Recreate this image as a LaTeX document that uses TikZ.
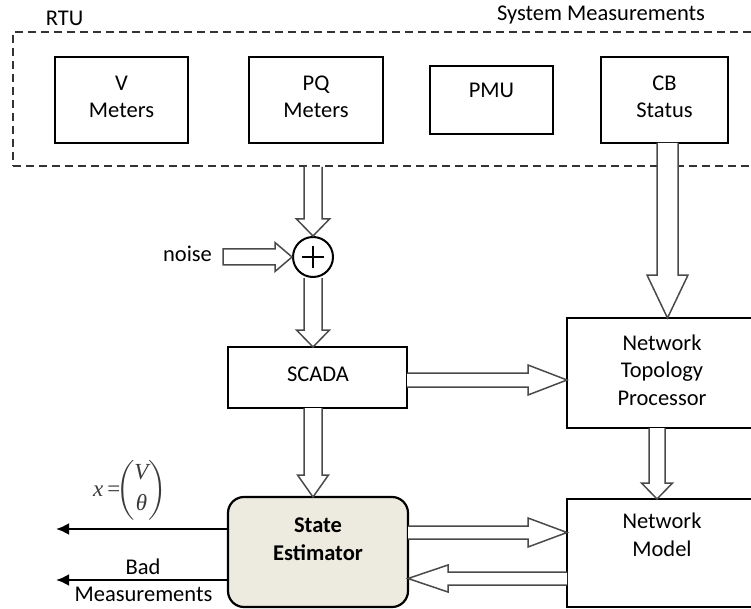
\documentclass[tikz,border=0pt]{standalone}
\usepackage{fontspec}
\usepackage{amsmath}
\setmainfont{Carlito}
\newfontfamily\tms{Liberation Serif}
\usetikzlibrary{calc,arrows.meta}
\definecolor{sefill}{HTML}{EDEBE0}
\definecolor{arrgray}{HTML}{4A4A4A}
\definecolor{dashgray}{HTML}{333333}
\definecolor{matgray}{HTML}{3A3A3A}
\tikzset{
  box/.style={draw=black, line width=2.2pt, align=center, inner sep=0pt, outer sep=0pt,
    font=\fontsize{22.5}{27.5}\selectfont, text=black},
  txt/.style={inner sep=0pt, align=center, font=\fontsize{22.5}{27.5}\selectfont, text=black},
  dashbox/.style={draw=dashgray, line width=2pt, dash pattern=on 8pt off 5pt, inner sep=0pt},
  blockarr/.style={draw=arrgray, line width=1.5pt, fill=white, line join=miter},
  outarr/.style={draw=black, line width=2.4pt, -{Latex[length=13pt,width=12pt]}}
}
% vertical (downward) block arrow: from, tip, shaft half, head half, head length
\newcommand{\barrdown}[5]{%
  \draw[blockarr] let \p1=(#1), \p2=(#2) in
    (\x1-#3,\y1) -- (\x1-#3,\y2+#5) -- (\x1-#4,\y2+#5) -- (\x1,\y2)
    -- (\x1+#4,\y2+#5) -- (\x1+#3,\y2+#5) -- (\x1+#3,\y1);}
% rightward block arrow
\newcommand{\barrright}[5]{%
  \draw[blockarr] let \p1=(#1), \p2=(#2) in
    (\x1,\y1+#3) -- (\x2-#5,\y1+#3) -- (\x2-#5,\y1+#4) -- (\x2,\y1)
    -- (\x2-#5,\y1-#4) -- (\x2-#5,\y1-#3) -- (\x1,\y1-#3);}
% rightward block arrow with closed tail
\newcommand{\barrrightc}[5]{%
  \draw[blockarr] let \p1=(#1), \p2=(#2) in
    (\x1,\y1+#3) -- (\x2-#5,\y1+#3) -- (\x2-#5,\y1+#4) -- (\x2,\y1)
    -- (\x2-#5,\y1-#4) -- (\x2-#5,\y1-#3) -- (\x1,\y1-#3) -- cycle;}
% leftward block arrow
\newcommand{\barrleft}[5]{%
  \draw[blockarr] let \p1=(#1), \p2=(#2) in
    (\x1,\y1+#3) -- (\x2+#5,\y1+#3) -- (\x2+#5,\y1+#4) -- (\x2,\y1)
    -- (\x2+#5,\y1-#4) -- (\x2+#5,\y1-#3) -- (\x1,\y1-#3);}
\begin{document}
\begin{tikzpicture}[x=1pt,y=-1pt]
\useasboundingbox (0,0) rectangle (751,609);
\clip (0,0) rectangle (751,609);
\fill[white] (0,0) rectangle (751,609);

% container
\node[dashbox, minimum width=757pt, minimum height=134pt] (rtu) at (391.5,99) {};
\node[txt] (rtulbl) at (64.5,18) {RTU};
\node[txt] (syslbl) at (601,15) {System Measurements};

% meters
\node[box, minimum width=133pt, minimum height=86pt] (vm) at (121.5,100) {};
\node[txt] (vmtxt) at (121.5,97) {V\\Meters};
\node[box, minimum width=134pt, minimum height=86pt] (pq) at (316,100) {};
\node[txt] (pqtxt) at (316,97) {PQ\\Meters};
\node[box, minimum width=123pt, minimum height=68pt] (pmu) at (491.5,100) {};
\node[txt] (pmutxt) at (491.5,90) {PMU};
\node[box, minimum width=127pt, minimum height=86pt] (cb) at (664.5,100) {};
\node[txt] (cbtxt) at (664.5,97) {CB\\Status};

% summing junction
\node[draw=black, line width=2pt, circle, minimum size=40pt, inner sep=0pt] (sum) at (313,257) {};
\draw[line width=2pt] ($(sum.center)+(-11,0)$) -- ($(sum.center)+(11,0)$)
                      ($(sum.center)+(0,-11)$) -- ($(sum.center)+(0,11)$);
\node[txt] (noise) at (187.5,254) {noise};
\coordinate (nz) at (223,257);

% main blocks
\node[box, minimum width=179pt, minimum height=61pt] (scada) at (317.5,377.5) {};
\node[txt] (scadatxt) at (318,374) {SCADA};
\node[box, minimum width=190pt, minimum height=110pt] (ntp) at (662,373) {};
\node[txt] (ntptxt) at (662,370) {Network\\Topology\\Processor};
\node[box, minimum width=190pt, minimum height=108pt] (nm) at (662,553) {};
\node[txt] (nmtxt) at (662,535) {Network\\Model};
\node[box, fill=sefill, rounded corners=16pt, minimum width=180pt, minimum height=110pt] (se) at (318,552) {};
\node[txt, font=\fontsize{22.5}{27.5}\selectfont\bfseries] (setxt) at (318,539) {State\\Estimator};

% block arrows
\coordinate (pqout) at (rtu.south -| sum.north);
\barrdown{pqout}{sum.north}{9pt}{16.5pt}{17pt}
\barrrightc{nz}{sum.west}{8pt}{14.5pt}{17pt}
\barrdown{sum.south}{scada.north -| sum.south}{9pt}{16.5pt}{17pt}
\barrdown{scada.south -| sum.south}{se.north -| sum.south}{9pt}{15.5pt}{22pt}
\coordinate (scout) at ($(scada.east)+(0,2.5)$);
\barrright{scout}{ntp.west}{7pt}{15pt}{39pt}
\coordinate (cbout) at ($(cb.south)+(3,0)$);
\barrdown{cbout}{cbout |- ntp.north}{10.5pt}{20.5pt}{43pt}
\coordinate (ntpout) at ($(ntp.south)+(-5,0)$);
\barrdown{ntpout}{ntpout |- nm.north}{8pt}{15.5pt}{16pt}
\coordinate (seout) at ($(se.east)+(0,-19.5)$);
\barrright{seout}{seout -| nm.west}{6.5pt}{14.5pt}{39pt}
\coordinate (nmout) at ($(nm.west)+(0,25.5)$);
\barrleft{nmout}{nmout -| se.east}{6.5pt}{13.5pt}{40pt}

% outputs
\coordinate (xo) at (56,529);
\coordinate (bo) at (56,580);
\draw[outarr] (se.west |- xo) -- (xo);
\draw[outarr] (se.west |- bo) -- (bo);
\node[inner sep=0pt, text=matgray, font=\fontsize{23}{27}\selectfont] (xeq) at (130,490)
  {{\tms\itshape x}\,{\tms =}$\!\left(\begin{array}{@{}c@{}}\text{\tms\itshape V}\\[4pt]\text{\tms\itshape θ}\end{array}\right)$};
\node[txt] (badtxt) at (143,567) {Bad};
\node[txt] (meastxt) at (143.5,594) {Measurements};
\end{tikzpicture}
\end{document}
